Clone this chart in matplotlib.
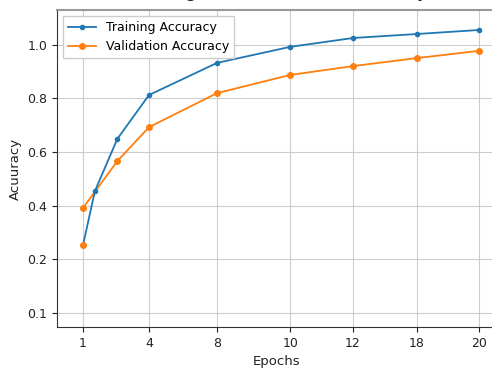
import matplotlib
matplotlib.use("Agg")
import matplotlib.pyplot as plt

# tick labels and where they sit along the axes (the chart spaces them unevenly)
epoch_labels = ['1', '4', '8', '10', '12', '18', '20']
epoch_pos = [0, 1, 2.03, 3.14, 4.09, 5.06, 6.0]
acc_labels = ['0.1', '0.2', '0.4', '0.6', '0.8', '1.0']
acc_pos = [0.0, 0.2, 0.4, 0.6, 0.8, 1.0]

train_x = [0, 0.18, 0.52, 1, 2.03, 3.14, 4.09, 5.06, 6.0]
train_acc = [0.252, 0.454, 0.649, 0.813, 0.933, 0.993, 1.026, 1.041, 1.056]
val_x = [0, 0.52, 1, 2.03, 3.14, 4.09, 5.06, 6.0]
val_acc = [0.391, 0.566, 0.693, 0.82, 0.888, 0.921, 0.951, 0.978]

fig = plt.figure(figsize=(4.92, 3.7), dpi=100)
ax = fig.add_axes([0.1159, 0.1162, 0.8923, 0.857])

ax.plot(train_x, train_acc, color='#1f77b4', marker='o', markersize=3, lw=1.3,
        label='Training Accuracy', zorder=3)
ax.plot(val_x, val_acc, color='#ff7f0e', marker='o', markersize=4, lw=1.3,
        label='Validation Accuracy', zorder=2)
# first training point shows an orange marker in the original
ax.plot(train_x[:1], train_acc[:1], color='#ff7f0e', marker='o', markersize=4,
        ls='none', zorder=4)

ax.set_xticks(epoch_pos)
ax.set_xticklabels(epoch_labels)
ax.set_yticks(acc_pos)
ax.set_yticklabels(acc_labels)
ax.set_xlim(-0.394, 6.258)
ax.set_ylim(-0.054, 1.131)
ax.tick_params(labelsize=9, colors='#222222')
ax.grid(True, color='#cccccc', lw=0.8)
ax.set_axisbelow(True)

ax.spines['top'].set_color('#999999')
ax.spines['top'].set_linewidth(1.5)
ax.spines['right'].set_visible(False)
for s in ['left', 'bottom']:
    ax.spines[s].set_color('#333333')

ax.set_xlabel('Epochs', fontsize=9.5, color='#222222')
ax.set_ylabel('Acuuracy', fontsize=9.5, color='#222222')

ax.legend(loc='upper left', fontsize=9, framealpha=1, edgecolor='#cccccc',
          fancybox=False, borderaxespad=0.5, handlelength=2.2)

# title sits mostly above the top edge in the original, only descenders show
fig.text(0.56, 1.008, 'Training and Validation Accuracy', ha='center',
         va='baseline', fontsize=13.5, color='#222222')

fig.savefig('out.png', dpi=100)
